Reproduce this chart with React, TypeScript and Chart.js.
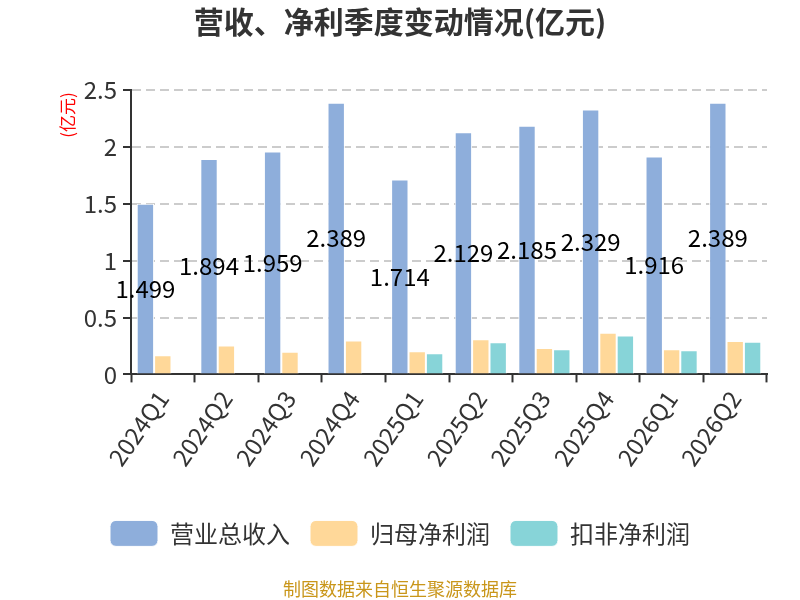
import { useEffect, useRef } from "react"
import { Chart, type ChartConfiguration, type Plugin, registerables } from "chart.js"

Chart.register(...registerables)

const categories = ["2024Q1", "2024Q2", "2024Q3", "2024Q4", "2025Q1", "2025Q2", "2025Q3", "2025Q4", "2026Q1", "2026Q2"]
const revenue = [1.499, 1.894, 1.959, 2.389, 1.714, 2.129, 2.185, 2.329, 1.916, 2.389]
const netProfit = [0.169, 0.253, 0.2, 0.297, 0.203, 0.308, 0.233, 0.366, 0.221, 0.294]
const deductedProfit = [null, null, null, null, 0.186, 0.282, 0.221, 0.343, 0.212, 0.288]
const yTicks = [0, 0.5, 1, 1.5, 2, 2.5]

const FONT = "'Noto Sans CJK SC', 'Noto Sans', sans-serif"

// value labels in the middle of the revenue bars + red unit name on the y axis
const extrasPlugin: Plugin<"bar"> = {
  id: "extras",
  afterDatasetsDraw(chart) {
    const { ctx } = chart
    const meta = chart.getDatasetMeta(0)
    ctx.save()
    ctx.font = `24px ${FONT}`
    ctx.fillStyle = "#000"
    ctx.textAlign = "center"
    ctx.textBaseline = "middle"
    meta.data.forEach((bar, i) => {
      const { x, y, base } = bar.getProps(["x", "y", "base"], true) as any
      ctx.fillText(revenue[i].toFixed(3), x, (y + base) / 2)
    })
    ctx.restore()

    const area = chart.chartArea
    ctx.save()
    ctx.font = `17px ${FONT}`
    ctx.fillStyle = "#ff0000"
    ctx.textAlign = "center"
    ctx.textBaseline = "middle"
    ctx.translate(area.left - 63, area.top + 25)
    ctx.rotate(-Math.PI / 2)
    ctx.fillText("(亿元)", 0, 0)
    ctx.restore()
  },
}

export default function App() {
  const chartRef = useRef<HTMLCanvasElement>(null)
  const chartInstance = useRef<Chart | null>(null)

  useEffect(() => {
    document.body.style.margin = "0"
    if (!chartRef.current) return
    const ctx = chartRef.current.getContext("2d")
    if (!ctx) return

    if (chartInstance.current) {
      chartInstance.current.destroy()
    }

    const config: ChartConfiguration<"bar"> = {
      type: "bar",
      data: {
        labels: categories,
        datasets: [
          {
            label: "营业总收入",
            data: revenue,
            backgroundColor: "#8eaedb",
            borderColor: "#ffffff",
            borderWidth: 1,
            barPercentage: 1,
            categoryPercentage: 0.82,
          },
          {
            label: "归母净利润",
            data: netProfit,
            backgroundColor: "#ffd899",
            borderColor: "#ffffff",
            borderWidth: 1,
            barPercentage: 1,
            categoryPercentage: 0.82,
          },
          {
            label: "扣非净利润",
            data: deductedProfit,
            backgroundColor: "#87d4d8",
            borderColor: "#ffffff",
            borderWidth: 1,
            barPercentage: 1,
            categoryPercentage: 0.82,
          },
        ],
      },
      options: {
        responsive: false,
        animation: false,
        layout: { padding: 0 },
        scales: {
          x: {
            afterFit: (scale) => {
              scale.height = 126
            },
            ticks: {
              color: "#333",
              font: { family: FONT, size: 24 },
              minRotation: 55,
              maxRotation: 55,
              autoSkip: false,
            },
            grid: {
              drawOnChartArea: false,
              tickLength: 8,
              tickColor: "#333",
              tickWidth: 2,
            },
            border: { color: "#333", width: 2 },
          },
          y: {
            min: 0,
            max: 2.5,
            afterFit: (scale) => {
              scale.width = 131
            },
            afterBuildTicks: (scale) => {
              scale.ticks = yTicks.map((v) => ({ value: v }))
            },
            ticks: {
              color: "#333",
              font: { family: FONT, size: 24 },
              padding: 6,
              callback: (v) => String(v),
            },
            grid: {
              color: "#cccccc",
              lineWidth: 2,
              tickLength: 8,
              tickColor: "#333",
              tickWidth: 2,
              tickBorderDash: [],
            },
            border: { color: "#333", width: 2, dash: [9, 5] },
          },
          // empty right-hand axis, only reserves the right margin
          yRight: {
            position: "right",
            display: true,
            afterFit: (scale) => {
              scale.width = 33
            },
            ticks: { display: false },
            grid: { display: false },
            border: { display: false },
          },
        },
        plugins: {
          title: {
            display: true,
            text: "营收、净利季度变动情况(亿元)",
            color: "#333",
            font: { family: FONT, size: 30, weight: "bold" },
            padding: { top: 4, bottom: 50 },
          },
          subtitle: {
            display: true,
            position: "bottom",
            text: "制图数据来自恒生聚源数据库",
            color: "#c9961a",
            font: { family: FONT, size: 18 },
            padding: { top: 22, bottom: 0 },
          },
          legend: {
            position: "bottom",
            labels: {
              color: "#333",
              font: { family: FONT, size: 24 },
              boxWidth: 48,
              boxHeight: 26,
              padding: 20,
              useBorderRadius: true,
              borderRadius: 6,
            },
          },
          tooltip: { enabled: false },
        },
      },
      plugins: [extrasPlugin],
    }

    chartInstance.current = new Chart(ctx, config)

    return () => {
      if (chartInstance.current) {
        chartInstance.current.destroy()
      }
    }
  }, [])

  return (
    <div style={{ width: 800, height: 600 }}>
      <canvas ref={chartRef} width={800} height={600} style={{ width: 800, height: 600 }} />
    </div>
  )
}
